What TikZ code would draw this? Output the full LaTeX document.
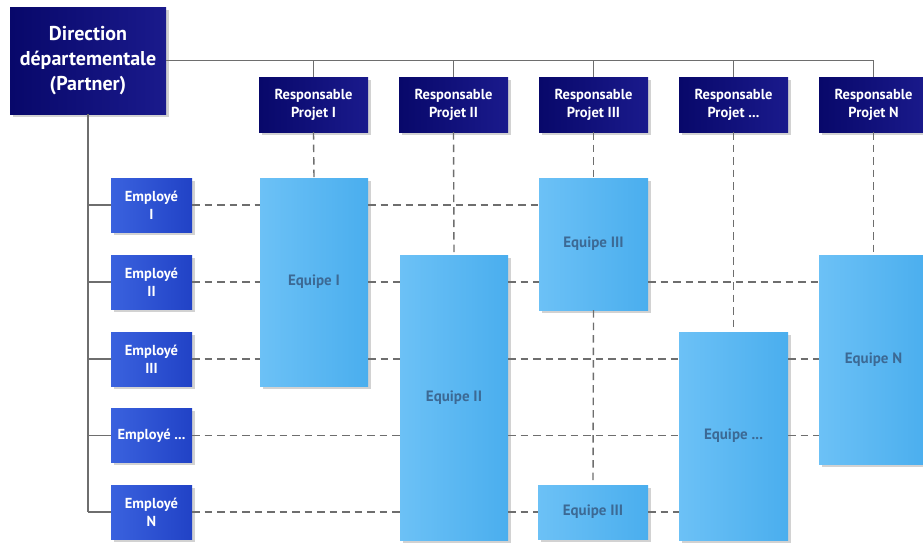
\documentclass[tikz,border=0pt]{standalone}
\usepackage{fontspec}
\setmainfont{PT Sans}
\usetikzlibrary{shadows}
\definecolor{navyL}{HTML}{08086A}
\definecolor{navyR}{HTML}{1A1A8C}
\definecolor{empL}{HTML}{3A62DE}
\definecolor{empR}{HTML}{2142C6}
\definecolor{eqL}{HTML}{6CC1F6}
\definecolor{eqM}{HTML}{8DD0FA}
\definecolor{eqR}{HTML}{4AAEEE}
\definecolor{eqText}{HTML}{3C6994}
\definecolor{lineGray}{HTML}{6E6E6E}
\tikzset{
  boxshadow/.style={drop shadow={shadow xshift=2.5pt,shadow yshift=-2.5pt,fill=black!35,opacity=0.5}},
  dirbox/.style={boxshadow,left color=navyL,right color=navyR,text=white,align=center,inner sep=0pt,
    font=\bfseries\fontsize{20}{25}\selectfont,minimum width=156pt,minimum height=107pt},
  respbox/.style={boxshadow,left color=navyL,right color=navyR,text=white,align=center,inner sep=0pt,
    font=\bfseries\fontsize{14.5}{18}\selectfont,minimum width=109pt,minimum height=55pt},
  empbox/.style={boxshadow,left color=empL,right color=empR,text=white,align=center,inner sep=0pt,
    font=\bfseries\fontsize{14.5}{18}\selectfont,minimum width=81pt,minimum height=54pt},
  eqbox/.style={boxshadow,left color=eqL,middle color=eqM,right color=eqR,text=eqText,align=center,inner sep=0pt,
    font=\bfseries\fontsize{15}{18}\selectfont,minimum width=108pt},
  solidline/.style={draw=lineGray,line width=1.4pt},
  dashline/.style={draw=lineGray,line width=1.4pt,dash pattern=on 7.5pt off 5pt}
}
\begin{document}
\begin{tikzpicture}[x=1pt,y=-1pt]
\useasboundingbox (0,0) rectangle (923,544);
\fill[white] (0,0) rectangle (923,544);
\clip (0,0) rectangle (923,544);

% nodes
\node[dirbox] (d) at (88,60.5) {Direction\\départementale\\(Partner)};
\node[respbox] (r1) at (313.5,104.5) {Responsable\\Projet I};
\node[respbox] (r2) at (453.5,104.5) {Responsable\\Projet II};
\node[respbox] (r3) at (593.5,104.5) {Responsable\\Projet III};
\node[respbox] (r4) at (733.5,104.5) {Responsable\\Projet ...};
\node[respbox] (r5) at (873.5,104.5) {Responsable\\Projet N};

\node[empbox] (e1) at (151.5,205) {Employé\\I};
\node[empbox] (e2) at (151.5,282) {Employé\\II};
\node[empbox] (e3) at (151.5,359) {Employé\\III};
\node[empbox] (e4) at (151.5,435.5) {Employé ...};
\node[empbox] (e5) at (151.5,512) {Employé\\N};

\node[eqbox,minimum height=208pt] (q1) at (314,282) {Equipe I};
\node[eqbox,minimum height=285pt] (q2) at (454,397.5) {Equipe II};
\node[eqbox,minimum height=132pt,minimum width=109pt] (q3a) at (593.5,244) {Equipe III};
\node[eqbox,minimum height=54pt,minimum width=110pt] (q3b) at (593,512) {Equipe III};
\node[eqbox,minimum height=208pt,minimum width=109pt] (q4) at (733.5,436) {Equipe ...};
\node[eqbox,minimum height=209pt,minimum width=109pt] (q5) at (873.5,359.5) {Equipe N};

% solid hierarchy lines
\draw[solidline] (d.east) -- (d.east -| r5.north) -- (r5.north);
\foreach \r in {r1,r2,r3,r4} \draw[solidline] (d.east -| \r.north) -- (\r.north);
\draw[solidline] (d.south) -- (d.south |- e5.west);
\foreach \e in {e1,e2,e3,e4,e5} \draw[solidline] (d.south |- \e.west) -- (\e.west);

% vertical dashed lines
\draw[dashline] (r1.south) -- (q1.north);
\draw[dashline] (r2.south) -- (q2.north);
\draw[dashline] (r3.south) -- (q3a.north);
\draw[dashline] (q3a.south) -- (q3b.north);
\draw[dashline] (r4.south) -- (q4.north);
\draw[dashline] (r5.south) -- (q5.north);

% horizontal dashed lines
% row I
\draw[dashline] (e1.east) -- (e1.east -| q1.west);
\draw[dashline] (e1.east -| q1.east) -- (e1.east -| q3a.west);
% row II
\draw[dashline] (e2.east) -- (e2.east -| q1.west);
\draw[dashline] (e2.east -| q1.east) -- (e2.east -| q2.west);
\draw[dashline] (e2.east -| q2.east) -- (e2.east -| q3a.west);
\draw[dashline] (e2.east -| q3a.east) -- (e2.east -| q5.west);
% row III
\draw[dashline] (e3.east) -- (e3.east -| q1.west);
\draw[dashline] (e3.east -| q1.east) -- (e3.east -| q2.west);
\draw[dashline] (e3.east -| q2.east) -- (e3.east -| q4.west);
\draw[dashline] (e3.east -| q4.east) -- (e3.east -| q5.west);
% row ...
\draw[dashline] (e4.east) -- (e4.east -| q2.west);
\draw[dashline] (e4.east -| q2.east) -- (e4.east -| q4.west);
\draw[dashline] (e4.east -| q4.east) -- (e4.east -| q5.west);
% row N
\draw[dashline] (e5.east) -- (e5.east -| q2.west);
\draw[dashline] (e5.east -| q2.east) -- (e5.east -| q3b.west);
\draw[dashline] (e5.east -| q3b.east) -- (e5.east -| q4.west);
\end{tikzpicture}
\end{document}
